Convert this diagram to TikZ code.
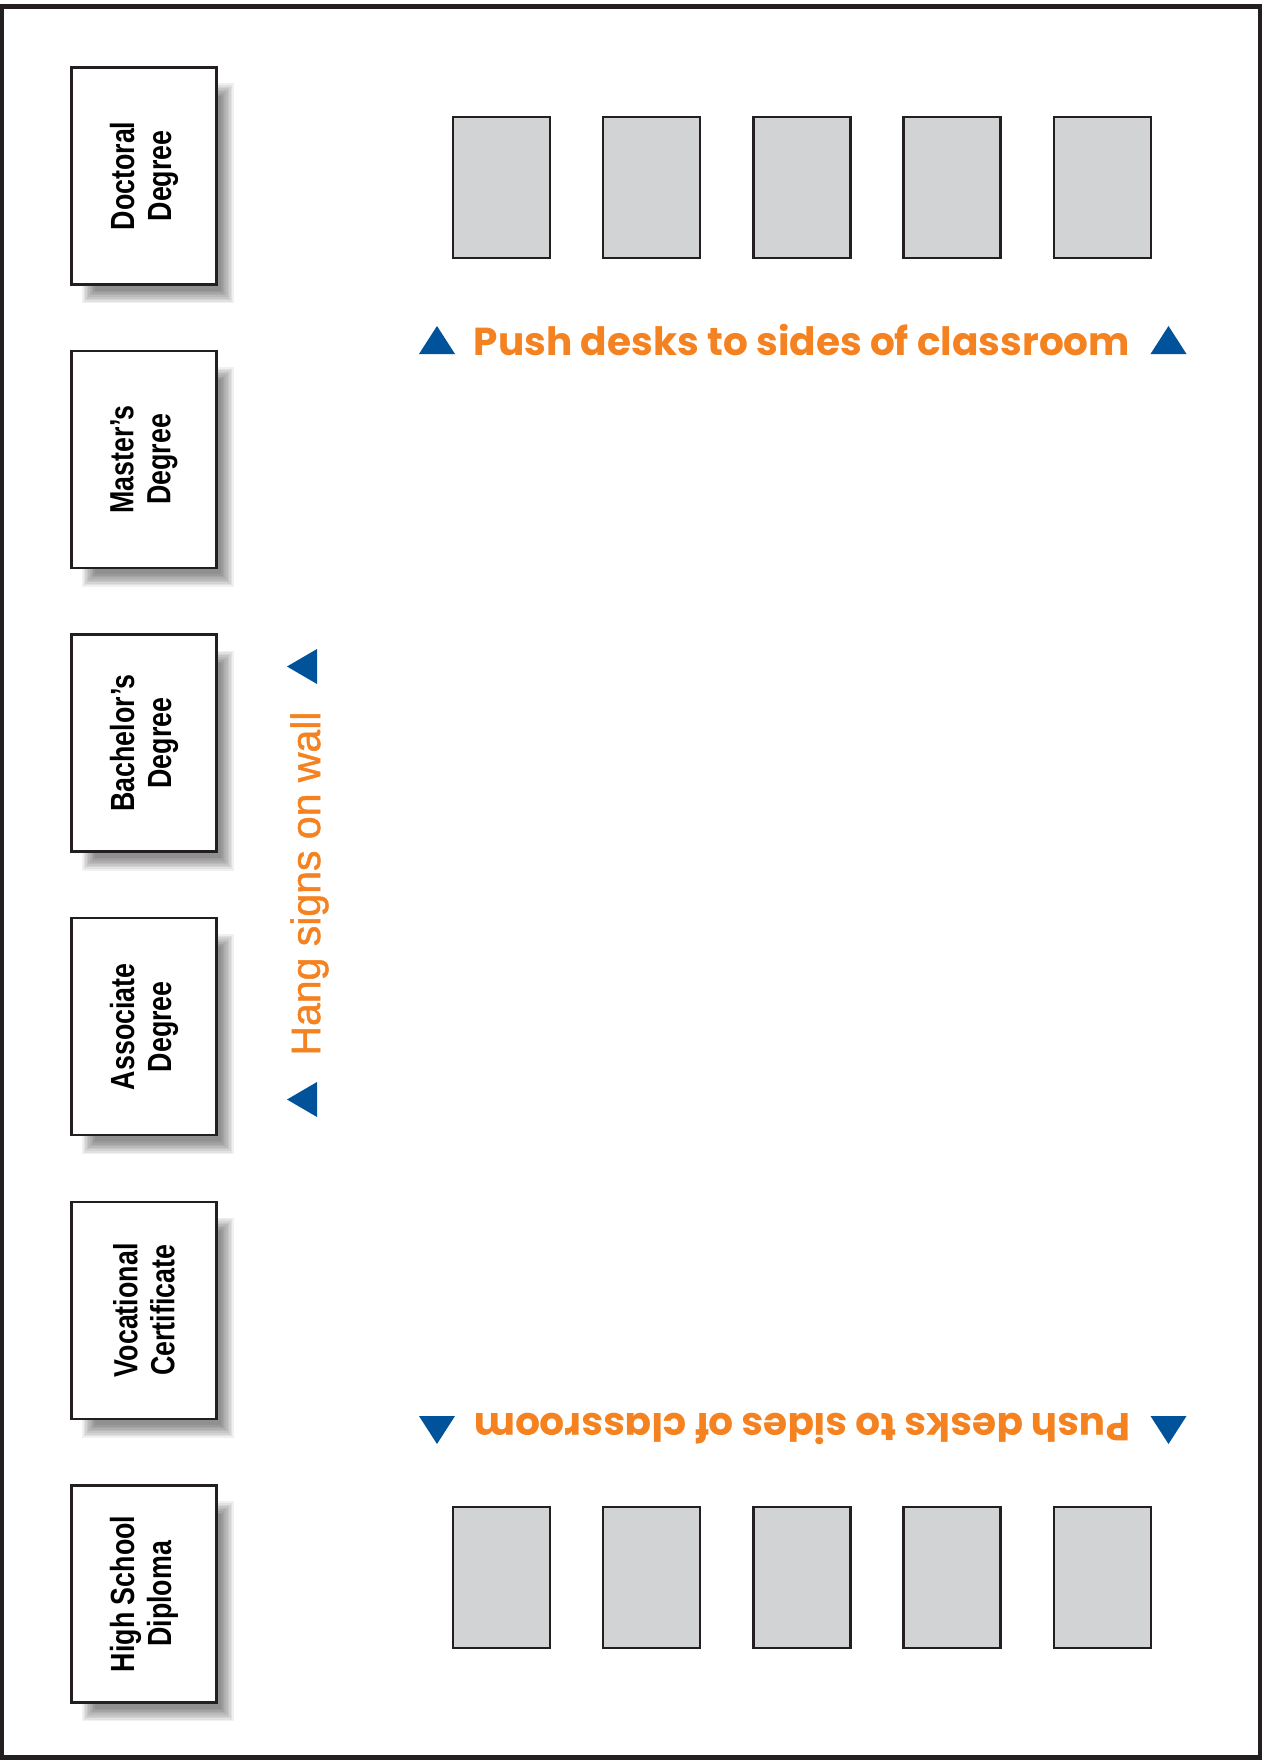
\documentclass[tikz,border=0pt]{standalone}
\usepackage{fontspec}
\setmainfont{Liberation Sans}
\newfontfamily\condfont[FakeStretch=0.8]{Liberation Sans}
\newfontfamily\hangfont[FakeBold=1.2]{Liberation Sans}
\newfontfamily\pushfont{Poppins}
\definecolor{ink}{HTML}{231F20}
\definecolor{deskgray}{HTML}{D1D3D4}
\definecolor{signorange}{HTML}{F58220}
\definecolor{arrowblue}{HTML}{00539B}
\tikzset{
  signbox/.style={draw=ink, line width=2.5pt, fill=white, rotate=90, inner sep=0pt,
    minimum width=217pt, minimum height=145pt, align=center,
    font=\condfont\bfseries\fontsize{33.5}{37}\selectfont},
  desk/.style={draw=ink, line width=2.5pt, fill=deskgray, inner sep=0pt,
    minimum width=97pt, minimum height=141pt},
  pushtext/.style={text=signorange, inner sep=0pt, anchor=base,
    font=\pushfont\bfseries\fontsize{39}{39}\selectfont},
  hangtext/.style={text=signorange, inner sep=0pt, anchor=base, rotate=90,
    font=\hangfont\fontsize{41}{41}\selectfont},
  tri/.style={fill=arrowblue}
}
\begin{document}
\begin{tikzpicture}[x=1pt,y=-1pt]
\useasboundingbox (0,0) rectangle (1264,1761);
\fill[white] (0,0) rectangle (1264,1761);
\draw[ink,line width=4.5pt] (1.5,6.3) rectangle (1260,1757.5);
% signs
\foreach \i/\la/\lb in {0/Doctoral/Degree,1/Master’s/Degree,2/Bachelor’s/Degree,3/Associate/Degree,4/Vocational/Certificate,5/High School/Diploma}{
  \pgfmathsetmacro{\top}{67.4+283.6*\i}
  \foreach \k in {0,...,8}{
    \fill[black,opacity=0.06] (82+\k*1.6,\top+16+\k*1.6) rectangle (234-\k*1.6,\top+236-\k*1.6);
  }
  \node[signbox] (sign\i) at (144,\top+108.5) {\la\\\lb};
}
% desks
\foreach \j in {0,...,4}{
  \node[desk] (dtop\j) at (501.5+150.2*\j,187.5) {};
  \node[desk] (dbot\j) at (501.5+150.2*\j,1577.5) {};
}
% push texts
\node[pushtext] (pushtop) at (802,355) {Push desks to sides of classroom};
\node[pushtext, rotate=180] (pushbot) at (802,1413) {Push desks to sides of classroom};
\fill[tri] (419,354) -- (437,326) -- (455,354) -- cycle;
\fill[tri] (1150.5,354) -- (1168.5,326) -- (1186.5,354) -- cycle;
\fill[tri] (419,1416) -- (437,1444) -- (455,1416) -- cycle;
\fill[tri] (1150.5,1416) -- (1168.5,1444) -- (1186.5,1416) -- cycle;
% hang signs
\node[hangtext] (hang) at (320,883.5) {Hang signs on wall};
\fill[tri] (317,649) -- (287,666.5) -- (317,684) -- cycle;
\fill[tri] (317,1082) -- (287,1099.5) -- (317,1117) -- cycle;
\end{tikzpicture}
\end{document}
